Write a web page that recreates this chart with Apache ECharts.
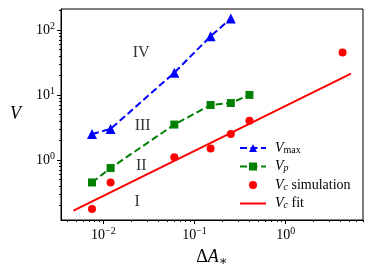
<!DOCTYPE html>
<html><head><meta charset="utf-8">
<script src="https://cdn.jsdelivr.net/npm/echarts@6/dist/echarts.min.js"></script>
<style>html,body{margin:0;padding:0;background:#fff}#c{width:373px;height:274px}</style>
</head><body><div id="c"></div>
<script>
// ---- data ----
const dAmax = [0.0075, 0.012, 0.06, 0.15, 0.25];
const vMax = [2.5, 3.0, 22, 80, 150];
const dAp = [0.0075, 0.012, 0.06, 0.15, 0.25, 0.4];
const vP = [0.45, 0.75, 3.5, 7.0, 7.5, 10];
const dAc = [0.0075, 0.012, 0.06, 0.15, 0.25, 0.4, 4.2];
const vC = [0.175, 0.45, 1.1, 1.5, 2.5, 4.0, 45];
const fitX = [0.0047, 0.1, 5.2];
const fitY = [0.166, 1.38, 21.2];
const regionNames = ['IV', 'III', 'II', 'I'];
const regionX = [0.026, 0.027, 0.026, 0.0235];
const regionY = [44, 3.33, 0.81, 0.226];
const xMajorTicks = [0.01, 0.1, 1];
const yMajorTicks = [1, 10, 100];
const xMinorTicks = [0.004,0.005,0.006,0.007,0.008,0.009,0.02,0.03,0.04,0.05,0.06,0.07,0.08,0.09,0.2,0.3,0.4,0.5,0.6,0.7,0.8,0.9,2,3,4,5,6,7];
const yMinorTicks = [0.2,0.3,0.4,0.5,0.6,0.7,0.8,0.9,2,3,4,5,6,7,8,9,20,30,40,50,60,70,80,90,200];
const xRange = [0.00343, 7.04];
const yRange = [0.119, 210];

const SERIF = '"Liberation Serif","DejaVu Serif",serif';
const pair = (xs, ys) => xs.map((x, i) => [x, ys[i]]);

function powLabel(v) {
  const e = Math.round(Math.log10(v));
  return '{b|10}{s|' + String(e).replace('-', '\u2212') + '}';
}
const tickRich = {
  b: {fontFamily: SERIF, fontSize: 14, color: '#000'},
  s: {fontFamily: SERIF, fontSize: 10, color: '#000', padding: [0, 0, 8, 0]}
};
const legendRich = {
  v: {fontFamily: SERIF, fontSize: 14, fontStyle: 'italic', color: '#000'},
  su: {fontFamily: SERIF, fontSize: 10, color: '#000', verticalAlign: 'bottom'},
  si: {fontFamily: SERIF, fontSize: 10, fontStyle: 'italic', color: '#000', verticalAlign: 'bottom'},
  t: {fontFamily: SERIF, fontSize: 14, color: '#000'}
};
const legendFmt = {
  'Vmax': '{v|V}{su|max}',
  'Vp': '{v|V}{si|p}',
  'Vc simulation': '{v|V}{si|c}{t| simulation}',
  'Vc fit': '{v|V}{si|c}{t| fit}'
};

const chart = echarts.init(document.getElementById('c'), null, {renderer: 'canvas'});
chart.setOption({
  animation: false,
  backgroundColor: '#fff',
  grid: {left: 61, right: 10, top: 9, bottom: 54, show: true, borderColor: '#000', borderWidth: 1, backgroundColor: 'transparent'},
  legend: {
    orient: 'vertical', left: 234, top: 136, itemWidth: 26, itemHeight: 10, itemGap: 4.5,
    data: ['Vmax', 'Vp',
      {name: 'Vc simulation', icon: 'path://M0,0L0,0M9,5A4,4 0 1,0 17,5A4,4 0 1,0 9,5ZM26,10L26,10'},
      {name: 'Vc fit', icon: 'path://M0,0L0,0M0,4L26,4L26,6L0,6ZM26,10L26,10'}],
    formatter: n => legendFmt[n],
    textStyle: {rich: legendRich, padding: [0, 0, 0, 4]}
  },
  xAxis: [{
    type: 'log', logBase: 10, min: xRange[0], max: xRange[1],
    name: '{d|\u0394}{a|A}{s|\u2217}', nameLocation: 'middle', nameGap: 27,
    nameTextStyle: {rich: {
      d: {fontFamily: SERIF, fontSize: 18, color: '#000'},
      a: {fontFamily: SERIF, fontSize: 18, fontStyle: 'italic', color: '#000'},
      s: {fontFamily: SERIF, fontSize: 13, color: '#000', padding: [8, 0, 0, 0]}
    }},
    axisLine: {show: true, onZero: false, lineStyle: {color: '#000', width: 1}},
    axisTick: {show: true, length: 4, customValues: xMajorTicks, lineStyle: {color: '#000'}},
    axisLabel: {formatter: powLabel, rich: tickRich, margin: 6, customValues: xMajorTicks},
    splitLine: {show: false}
  }, {
    type: 'log', logBase: 10, min: xRange[0], max: xRange[1], position: 'bottom',
    axisLine: {show: false},
    axisTick: {show: true, length: 2, customValues: xMinorTicks, lineStyle: {color: '#000'}},
    axisLabel: {show: false},
    splitLine: {show: false}
  }],
  yAxis: [{
    type: 'log', logBase: 10, min: yRange[0], max: yRange[1],
    name: '{v|V}', nameLocation: 'middle', nameRotate: 0, nameGap: 40,
    nameTextStyle: {rich: {v: {fontFamily: SERIF, fontSize: 18, fontStyle: 'italic', color: '#000'}}},
    axisLine: {show: true, onZero: false, lineStyle: {color: '#000', width: 1}},
    axisTick: {show: true, length: 4, customValues: yMajorTicks, lineStyle: {color: '#000'}},
    axisLabel: {formatter: powLabel, rich: tickRich, margin: 6, customValues: yMajorTicks},
    splitLine: {show: false}
  }, {
    type: 'log', logBase: 10, min: yRange[0], max: yRange[1], position: 'left',
    axisLine: {show: false},
    axisTick: {show: true, length: 2, customValues: yMinorTicks, lineStyle: {color: '#000'}},
    axisLabel: {show: false},
    splitLine: {show: false}
  }],
  series: [{
    name: 'Vmax', type: 'line', data: pair(dAmax, vMax),
    symbol: 'triangle', symbolSize: 10, color: '#0000ff',
    lineStyle: {type: [7, 3.5], width: 2, color: '#0000ff'},
    itemStyle: {color: '#0000ff'}
  }, {
    name: 'Vp', type: 'line', data: pair(dAp, vP),
    symbol: 'rect', symbolSize: 8, color: '#008000',
    lineStyle: {type: [7, 3.5], width: 2, color: '#008000'},
    itemStyle: {color: '#008000'}
  }, {
    name: 'Vc simulation', type: 'scatter', data: pair(dAc, vC),
    symbol: 'circle', symbolSize: 8, itemStyle: {color: '#ff0000', opacity: 1}
  }, {
    name: 'Vc fit', type: 'line', data: pair(fitX, fitY),
    symbol: 'none', color: '#ff0000', lineStyle: {width: 2, color: '#ff0000'},
    itemStyle: {color: '#ff0000'}
  }, {
    name: 'regions', type: 'scatter', symbolSize: 0, silent: true,
    data: regionNames.map((n, i) => ({name: n, value: [regionX[i], regionY[i]]})),
    label: {show: true, position: 'inside', formatter: p => p.name,
      fontFamily: SERIF, fontSize: 16, color: '#000'}
  }]
});
</script></body></html>
